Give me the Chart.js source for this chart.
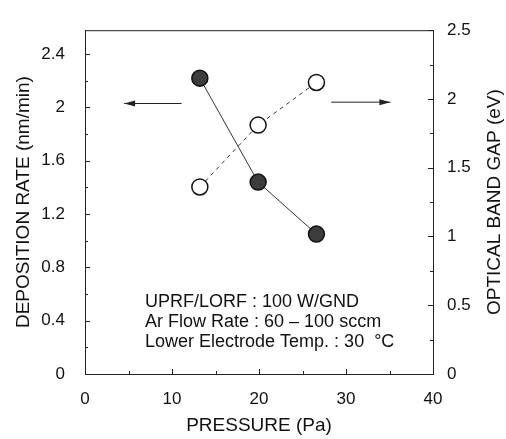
<!DOCTYPE html>
<html>
<head>
<meta charset="utf-8">
<script src="https://cdn.jsdelivr.net/npm/chart.js@4.4.0/dist/chart.umd.min.js"></script>
<style>
  html, body { margin: 0; padding: 0; background: #fff; }
  #wrap { width: 506px; height: 439px; }
</style>
</head>
<body>
<div id="wrap"><canvas id="chart" width="506" height="439"></canvas></div>
<script>
// values
const pressure = [13.2, 19.9, 26.6]
const depositionRate = [2.22, 1.44, 1.05]
const bandGap = [1.36, 1.81, 2.12]

const xTicks = [0, 10, 20, 30, 40]
const leftTicks = [0, 0.4, 0.8, 1.2, 1.6, 2, 2.4]
const rightTicks = [0, 0.5, 1, 1.5, 2, 2.5]

const noteLines = [
  'UPRF/LORF : 100 W/GND',
  'Ar Flow Rate : 60 \u2013 100 sccm',
  'Lower Electrode Temp. : 30  \u00B0C'
]
const rightTitle = 'OPTICAL BAND GAP (eV)'

const FONT = '"Liberation Sans", Arial, Helvetica, sans-serif'

const toPoints = (xs, ys) => xs.map((x, i) => ({ x: x, y: ys[i] }))
const plain = (v) => String(v)

// inward tick marks, top frame line, arrows, right title and the note
const decorations = {
  id: 'decorations',
  afterDraw(chart) {
    const ctx = chart.ctx
    const { left, right, top, bottom } = chart.chartArea
    const sx = chart.scales.x, sy = chart.scales.y, sy2 = chart.scales.y2
    ctx.save()
    ctx.strokeStyle = '#222'
    ctx.lineWidth = 1

    // top frame
    ctx.beginPath()
    ctx.moveTo(left, top + 0.5)
    ctx.lineTo(right, top + 0.5)
    ctx.stroke()

    ctx.beginPath()
    for (let v = 0; v <= 40; v += 5) {
      const px = Math.round(sx.getPixelForValue(v)) + 0.5
      const len = v % 10 === 0 ? 5 : 3
      ctx.moveTo(px, bottom)
      ctx.lineTo(px, bottom - len)
    }
    for (let v = 0; v <= 2.41; v += 0.2) {
      const py = Math.round(sy.getPixelForValue(v)) + 0.5
      const major = Math.abs(v / 0.4 - Math.round(v / 0.4)) < 0.01
      ctx.moveTo(left, py)
      ctx.lineTo(left + (major ? 5 : 3), py)
    }
    for (let v = 0; v <= 2.51; v += 0.25) {
      const py = Math.round(sy2.getPixelForValue(v)) + 0.5
      const major = Math.abs(v / 0.5 - Math.round(v / 0.5)) < 0.01
      ctx.moveTo(right, py)
      ctx.lineTo(right - (major ? 5 : 3), py)
    }
    ctx.stroke()

    // arrows telling which axis each series uses
    const arrow = (x0, x1, yPix) => {
      const a = sx.getPixelForValue(x0), b = sx.getPixelForValue(x1)
      const dir = Math.sign(b - a)
      ctx.beginPath()
      ctx.moveTo(a, yPix)
      ctx.lineTo(b, yPix)
      ctx.stroke()
      ctx.beginPath()
      ctx.moveTo(b, yPix)
      ctx.lineTo(b - dir * 11, yPix - 3)
      ctx.lineTo(b - dir * 11, yPix + 3)
      ctx.closePath()
      ctx.fillStyle = '#222'
      ctx.fill()
    }
    arrow(11.1, 4.5, sy.getPixelForValue(2.03))
    arrow(28.3, 35.1, sy.getPixelForValue(2.04))

    // right axis title, read bottom to top like the left one
    ctx.fillStyle = '#111'
    ctx.font = '19px ' + FONT
    ctx.textAlign = 'center'
    ctx.textBaseline = 'middle'
    ctx.save()
    ctx.translate(495, (top + bottom) / 2)
    ctx.rotate(-Math.PI / 2)
    ctx.fillText(rightTitle, 0, 0)
    ctx.restore()

    // conditions note
    ctx.font = '18px ' + FONT
    ctx.textBaseline = 'alphabetic'
    ctx.textAlign = 'left'
    const nx = sx.getPixelForValue(6.9)
    const ny = sy.getPixelForValue(0.5)
    noteLines.forEach((line, i) => ctx.fillText(line, nx, ny + i * 20))
    ctx.restore()
  }
}

const config = {
  type: 'scatter',
  data: {
    datasets: [
      {
        label: 'Deposition rate',
        data: toPoints(pressure, depositionRate),
        yAxisID: 'y',
        showLine: true,
        borderColor: '#333',
        borderWidth: 1,
        pointRadius: 8,
        pointBackgroundColor: '#3c3c3c',
        pointBorderColor: '#111',
        pointBorderWidth: 1.5
      },
      {
        label: 'Optical band gap',
        data: toPoints(pressure, bandGap),
        yAxisID: 'y2',
        showLine: true,
        borderColor: '#333',
        borderWidth: 1,
        borderDash: [4, 4],
        pointRadius: 8,
        pointBackgroundColor: '#fff',
        pointBorderColor: '#111',
        pointBorderWidth: 1.5
      }
    ]
  },
  options: {
    responsive: false,
    animation: false,
    layout: { padding: { top: 23, left: 0, right: 0, bottom: 0 } },
    plugins: {
      legend: { display: false },
      tooltip: { enabled: false }
    },
    scales: {
      x: {
        type: 'linear',
        min: 0,
        max: 40,
        afterFit: (s) => { s.height = 65 },
        afterBuildTicks: (s) => { s.ticks = xTicks.map(v => ({ value: v })) },
        grid: { display: false, drawTicks: false },
        border: { display: true, color: '#222', width: 1 },
        ticks: { color: '#111', padding: 15, callback: plain, font: { family: FONT, size: 17 } },
        title: {
          display: true,
          text: 'PRESSURE (Pa)',
          color: '#111',
          font: { family: FONT, size: 19 },
          padding: { top: 0, bottom: 2 }
        }
      },
      y: {
        position: 'left',
        min: 0,
        max: 2.58,
        afterFit: (s) => { s.width = 85 },
        afterBuildTicks: (s) => { s.ticks = leftTicks.map(v => ({ value: v })) },
        grid: { display: false, drawTicks: false },
        border: { display: true, color: '#222', width: 1 },
        ticks: { color: '#111', padding: 20, callback: plain, font: { family: FONT, size: 17 } },
        title: {
          display: true,
          text: 'DEPOSITION RATE (nm/min)',
          color: '#111',
          font: { family: FONT, size: 19 },
          padding: { top: 12, bottom: 0 }
        }
      },
      y2: {
        position: 'right',
        min: 0,
        max: 2.5,
        afterFit: (s) => { s.width = 73 },
        afterBuildTicks: (s) => { s.ticks = rightTicks.map(v => ({ value: v })) },
        grid: { display: false, drawTicks: false },
        border: { display: true, color: '#222', width: 1 },
        ticks: { color: '#111', padding: 14, callback: plain, font: { family: FONT, size: 17 } },
        title: { display: false }
      }
    }
  },
  plugins: [decorations]
}

const chart = new Chart(document.getElementById('chart').getContext('2d'), config)
</script>
</body>
</html>
